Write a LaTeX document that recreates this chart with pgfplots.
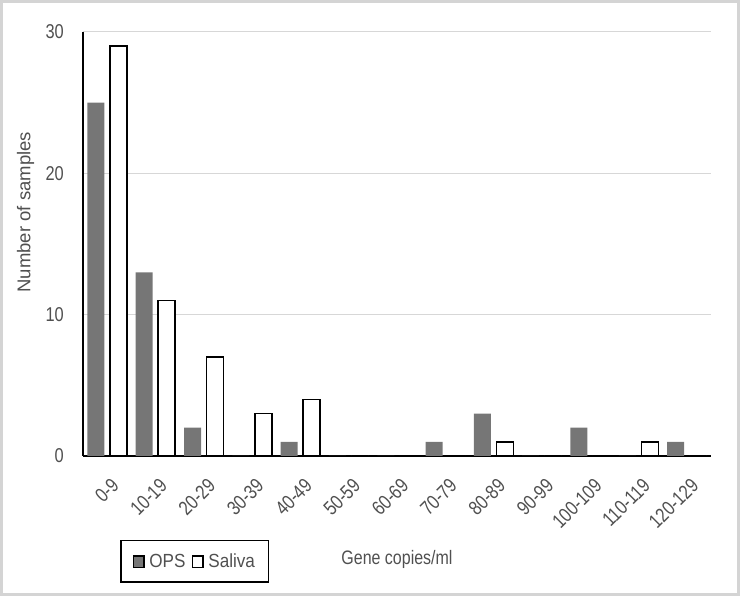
\documentclass[border=0pt]{standalone}
\usepackage{fontspec}
\setmainfont[FakeStretch=0.82]{Liberation Sans}
\newfontfamily\ylfont{Liberation Sans}
\newfontfamily\lgfont[FakeStretch=0.9]{Liberation Sans}
\usepackage{pgfplots}
\usepackage{pgfplotstable}
\pgfplotsset{compat=1.18}

\definecolor{opsgray}{RGB}{118,118,118}
\definecolor{txtgray}{RGB}{80,80,80}
\definecolor{gridgray}{RGB}{215,215,215}
\definecolor{framegray}{RGB}{212,212,212}

% counts per gene-copy bin
\pgfplotstableread{
x  ops saliva
0  25  29
1  13  11
2  2   7
3  0   3
4  1   4
5  0   0
6  0   0
7  1   0
8  3   1
9  0   0
10 2   0
11 0   1
12 1   0
}\bins

\begin{document}
\begin{tikzpicture}
\useasboundingbox (0pt,0pt) rectangle (740pt,596pt);
\begin{axis}[
    at={(83pt,140pt)}, anchor=south west,
    scale only axis, width=628pt, height=424pt,
    xmin=-0.5, xmax=12.5, ymin=0, ymax=30,
    axis x line*=bottom, axis y line*=left,
    axis line style={black, line width=1.5pt},
    ytick={0,10,20,30},
    ymajorgrids, grid style={gridgray, line width=1pt},
    xtick={0,...,12},
    xticklabels={0-9,10-19,20-29,30-39,40-49,50-59,60-69,70-79,80-89,90-99,100-109,110-119,120-129},
    major tick length=0pt,
    /pgf/number format/assume math mode=true,
    tick label style={font=\fontsize{20}{22}\selectfont, text=txtgray},
    yticklabel style={anchor=east, inner sep=0pt, xshift=-19pt},
    xticklabel style={xshift=3pt, yshift=-21pt, rotate=45, anchor=north east, inner sep=0pt},
    xlabel={Gene copies/ml},
    xlabel style={at={(axis description cs:0.5,-0.245)}, anchor=center,
        font=\fontsize{19.5}{22}\selectfont, text=txtgray},
    ylabel={Number of samples},
    ylabel style={at={(axis description cs:-0.0916,0.575)}, anchor=center,
        font=\ylfont\fontsize{18.5}{22}\selectfont, text=txtgray},
    legend columns=2,
    legend style={at={(axis description cs:0.0590,-0.198)}, anchor=north west,
        draw=black, line width=1.5pt, inner xsep=12pt, inner ysep=11.5pt,
        font=\lgfont\fontsize{19}{22}\selectfont, text=txtgray,
        nodes={inner sep=1.5pt},
        /tikz/every odd column/.append style={column sep=3pt},
        /tikz/every even column/.append style={column sep=5pt}},
    legend image code/.code={\draw[#1] (0pt,-6pt) rectangle (10.5pt,5.5pt);},
]
\addplot[ybar, bar width=17pt, bar shift=-11.25pt, fill=opsgray, draw=none]
    table[x=x, y=ops] {\bins};
\addplot[ybar, bar width=17pt, bar shift=11.25pt, fill=white, draw=black, line width=1.5pt]
    table[x=x, y=saliva] {\bins};
\legend{OPS, Saliva}
\end{axis}
\draw[framegray, line width=3pt] (1.5pt,1.5pt) rectangle (738.5pt,594.5pt);
\end{tikzpicture}
\end{document}
